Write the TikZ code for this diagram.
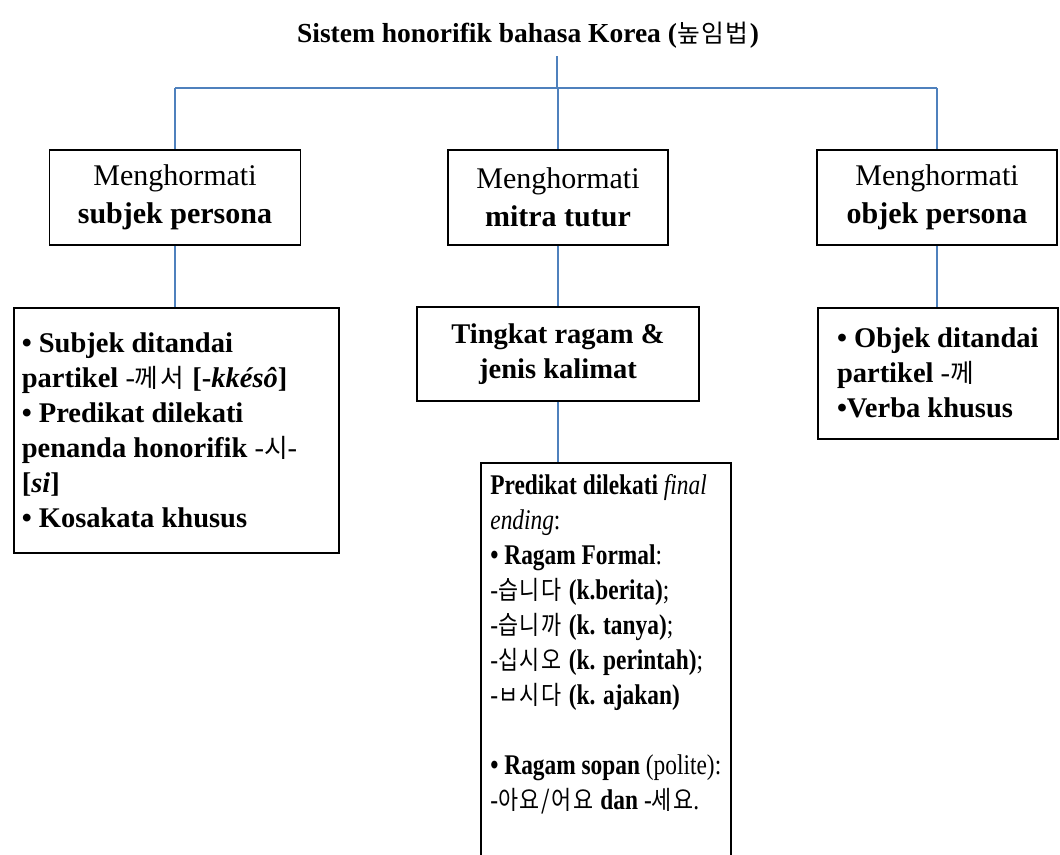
\documentclass[tikz,border=0pt]{standalone}
\usepackage{fontspec}
\setmainfont{Liberation Serif}
\newfontfamily\sempit[FakeStretch=0.82]{Liberation Serif}
\newfontfamily\kr[Scale=0.9,LetterSpace=6]{Noto Sans CJK KR}
\newfontfamily\krs[Scale=0.9,FakeStretch=0.85,LetterSpace=6]{Noto Sans CJK KR}
\usetikzlibrary{calc}
\definecolor{garisbiru}{RGB}{79,129,189}
\tikzset{
  kotak/.style={draw=black, line width=1.6pt, inner sep=0pt, align=center},
  hubung/.style={draw=garisbiru, line width=2pt},
  hurufbesar/.style={font=\fontsize{30}{38}\selectfont},
  hurufisi/.style={font=\fontsize{28.5}{35}\selectfont},
  hurufsempit/.style={font=\sempit\fontsize{28.5}{35}\selectfont},
}

\begin{document}
\begin{tikzpicture}[x=1pt, y=-1pt]
    \useasboundingbox (0,0) rectangle (1060,854);
    \clip (0,0) rectangle (1060,854);
    \node[font=\fontsize{27.5}{34}\selectfont, anchor=base, inner sep=8pt] (judul) at (528,42)
        {\textbf{Sistem honorifik bahasa Korea (}{\kr 높임법}\textbf{)}};
    \coordinate (cabang) at (557,88);
    \node[kotak, hurufbesar, minimum width=251pt, minimum height=95pt] (subjek) at (175,197.5)
        {Menghormati\\\textbf{subjek persona}};
    \node[kotak, hurufbesar, minimum width=220pt, minimum height=95pt] (mitra) at (558,197.5)
        {Menghormati\\\textbf{mitra tutur}};
    \node[kotak, hurufbesar, minimum width=240pt, minimum height=95pt] (objek) at (937,197.5)
        {Menghormati\\\textbf{objek persona}};
    \node[kotak, hurufisi, align=flush left, text width=309pt, inner xsep=8pt, minimum height=245pt, anchor=north west] (cirisubjek) at (13,307)
        {\textbf{• Subjek ditandai}\\
         \textbf{partikel} -{\kr 께서} \textbf{[-\textit{kkésô}]}\\
         \textbf{• Predikat dilekati}\\
         \textbf{penanda honorifik} -{\kr 시}-\\
         \textbf{[\textit{si}]}\\
         \textbf{• Kosakata khusus}};
    \node[kotak, hurufisi, minimum width=282pt, minimum height=94pt] (ragam) at (558,354)
        {\textbf{Tingkat ragam \&}\\\textbf{jenis kalimat}};
    \node[kotak, hurufisi, align=left, minimum width=240pt, minimum height=131pt, anchor=north west] (ciriobjek) at (817,307)
        {\textbf{• Objek ditandai}\\
         \textbf{partikel} -{\kr 께}\\
         \textbf{•Verba khusus}};
    \node[kotak, hurufsempit, align=left, minimum width=250pt, inner ysep=12pt, anchor=north west] (akhiran) at (480,462)
        {\textbf{Predikat dilekati} \textit{final}\\
         \textit{ending}:\\
         \textbf{• Ragam Formal}:\\
         -{\krs 습니다} \textbf{(k.berita)};\\
         -{\krs 습니까} \textbf{(k. tanya)};\\
         -{\krs 십시오} \textbf{(k. perintah)};\\
         -{\krs ㅂ시다} \textbf{(k. ajakan)}\\
         ~\\
         \textbf{• Ragam sopan} (polite):\\
         -{\krs 아요/어요} \textbf{dan} -{\krs 세요}.\\[60pt]~};
    \draw[hubung] (judul.south -| cabang) -- (cabang);
    \draw[hubung] (subjek.north |- cabang) -- (objek.north |- cabang);
    \foreach \kiri in {subjek,mitra,objek}
        \draw[hubung] (\kiri.north |- cabang) -- (\kiri.north);
    \draw[hubung] (subjek.south) -- (subjek.south |- cirisubjek.north);
    \draw[hubung] (mitra.south) -- (ragam.north);
    \draw[hubung] (objek.south) -- (objek.south |- ciriobjek.north);
    \draw[hubung] (ragam.south) -- (ragam.south |- akhiran.north);
\end{tikzpicture}
\end{document}
